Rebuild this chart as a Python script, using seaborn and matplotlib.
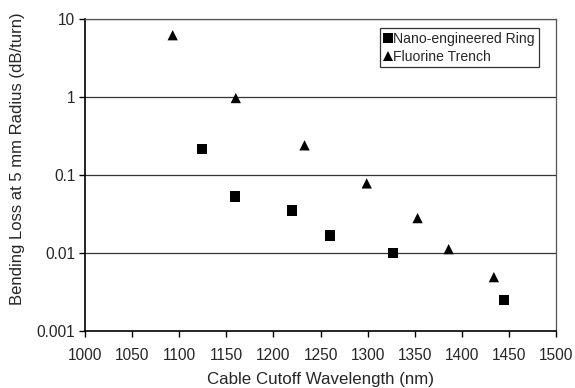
import matplotlib
matplotlib.use("Agg")
import matplotlib.pyplot as plt
import matplotlib.ticker as mticker
import seaborn as sns
import pandas as pd

# Measured bend loss vs. cable cutoff wavelength
ring_cutoff = [1124, 1159, 1220, 1260, 1327, 1445]
ring_loss = [0.215, 0.053, 0.035, 0.0168, 0.0100, 0.00247]

trench_cutoff = [1093, 1160, 1233, 1299, 1353, 1386, 1434]
trench_loss = [6.2, 0.97, 0.24, 0.078, 0.028, 0.0112, 0.0049]

series_names = ["Nano-engineered Ring", "Fluorine Trench"]
x_ticks = [1000, 1050, 1100, 1150, 1200, 1250, 1300, 1350, 1400, 1450, 1500]
y_ticks = [0.001, 0.01, 0.1, 1, 10]
y_tick_labels = ["0.001", "0.01", "0.1", "1", "10"]

df = pd.DataFrame({
    "cutoff": ring_cutoff + trench_cutoff,
    "loss": ring_loss + trench_loss,
    "fiber": [series_names[0]] * len(ring_cutoff) + [series_names[1]] * len(trench_cutoff),
})

sns.set_theme(style="white")
plt.rcParams["font.family"] = ["Liberation Sans", "DejaVu Sans"]

fig = plt.figure(figsize=(5.75, 3.88), dpi=100)
ax = fig.add_axes([0.148, 0.147, 0.819, 0.804])

sns.scatterplot(
    data=df, x="cutoff", y="loss", hue="fiber", style="fiber",
    hue_order=series_names, style_order=series_names,
    palette={series_names[0]: "black", series_names[1]: "black"},
    markers={series_names[0]: "s", series_names[1]: "^"},
    s=55, linewidth=0, ax=ax, zorder=3,
)

ax.set_yscale("log")
ax.set_ylim(0.001, 10)
ax.set_xlim(1000, 1500)
ax.set_xticks(x_ticks)
ax.set_yticks(y_ticks)
ax.set_yticklabels(y_tick_labels)
ax.yaxis.set_minor_locator(mticker.NullLocator())
ax.xaxis.set_minor_locator(mticker.NullLocator())

for y in y_ticks[1:]:
    ax.axhline(y, color="#333333", linewidth=0.9, zorder=1)

ax.tick_params(axis="x", which="major", direction="out", length=4, width=1.0,
               color="black", labelsize=11.2, pad=8, bottom=True)
ax.tick_params(axis="y", which="major", direction="out", length=4, width=1.0,
               color="black", labelsize=11.2, pad=3, left=True)

for side in ["left", "bottom"]:
    ax.spines[side].set_color("black")
    ax.spines[side].set_linewidth(1.2)
for side in ["top", "right"]:
    ax.spines[side].set_color("#555555")
    ax.spines[side].set_linewidth(0.9)

ax.set_xlabel("Cable Cutoff Wavelength (nm)", fontsize=12.2, labelpad=7)
ax.set_ylabel("Bending Loss at 5 mm Radius (dB/turn)", fontsize=12)
ax.yaxis.set_label_coords(-0.128, 0.553)

leg = ax.legend(loc="upper right", bbox_to_anchor=(0.963, 0.971), frameon=True,
                fancybox=False, edgecolor="black", fontsize=10.1,
                handletextpad=0.1, handlelength=0.6, borderpad=0.25,
                labelspacing=0.3, borderaxespad=0.0, title=None,
                markerscale=1.0)
leg.get_frame().set_linewidth(0.9)

fig.savefig("out.png", dpi=100)
